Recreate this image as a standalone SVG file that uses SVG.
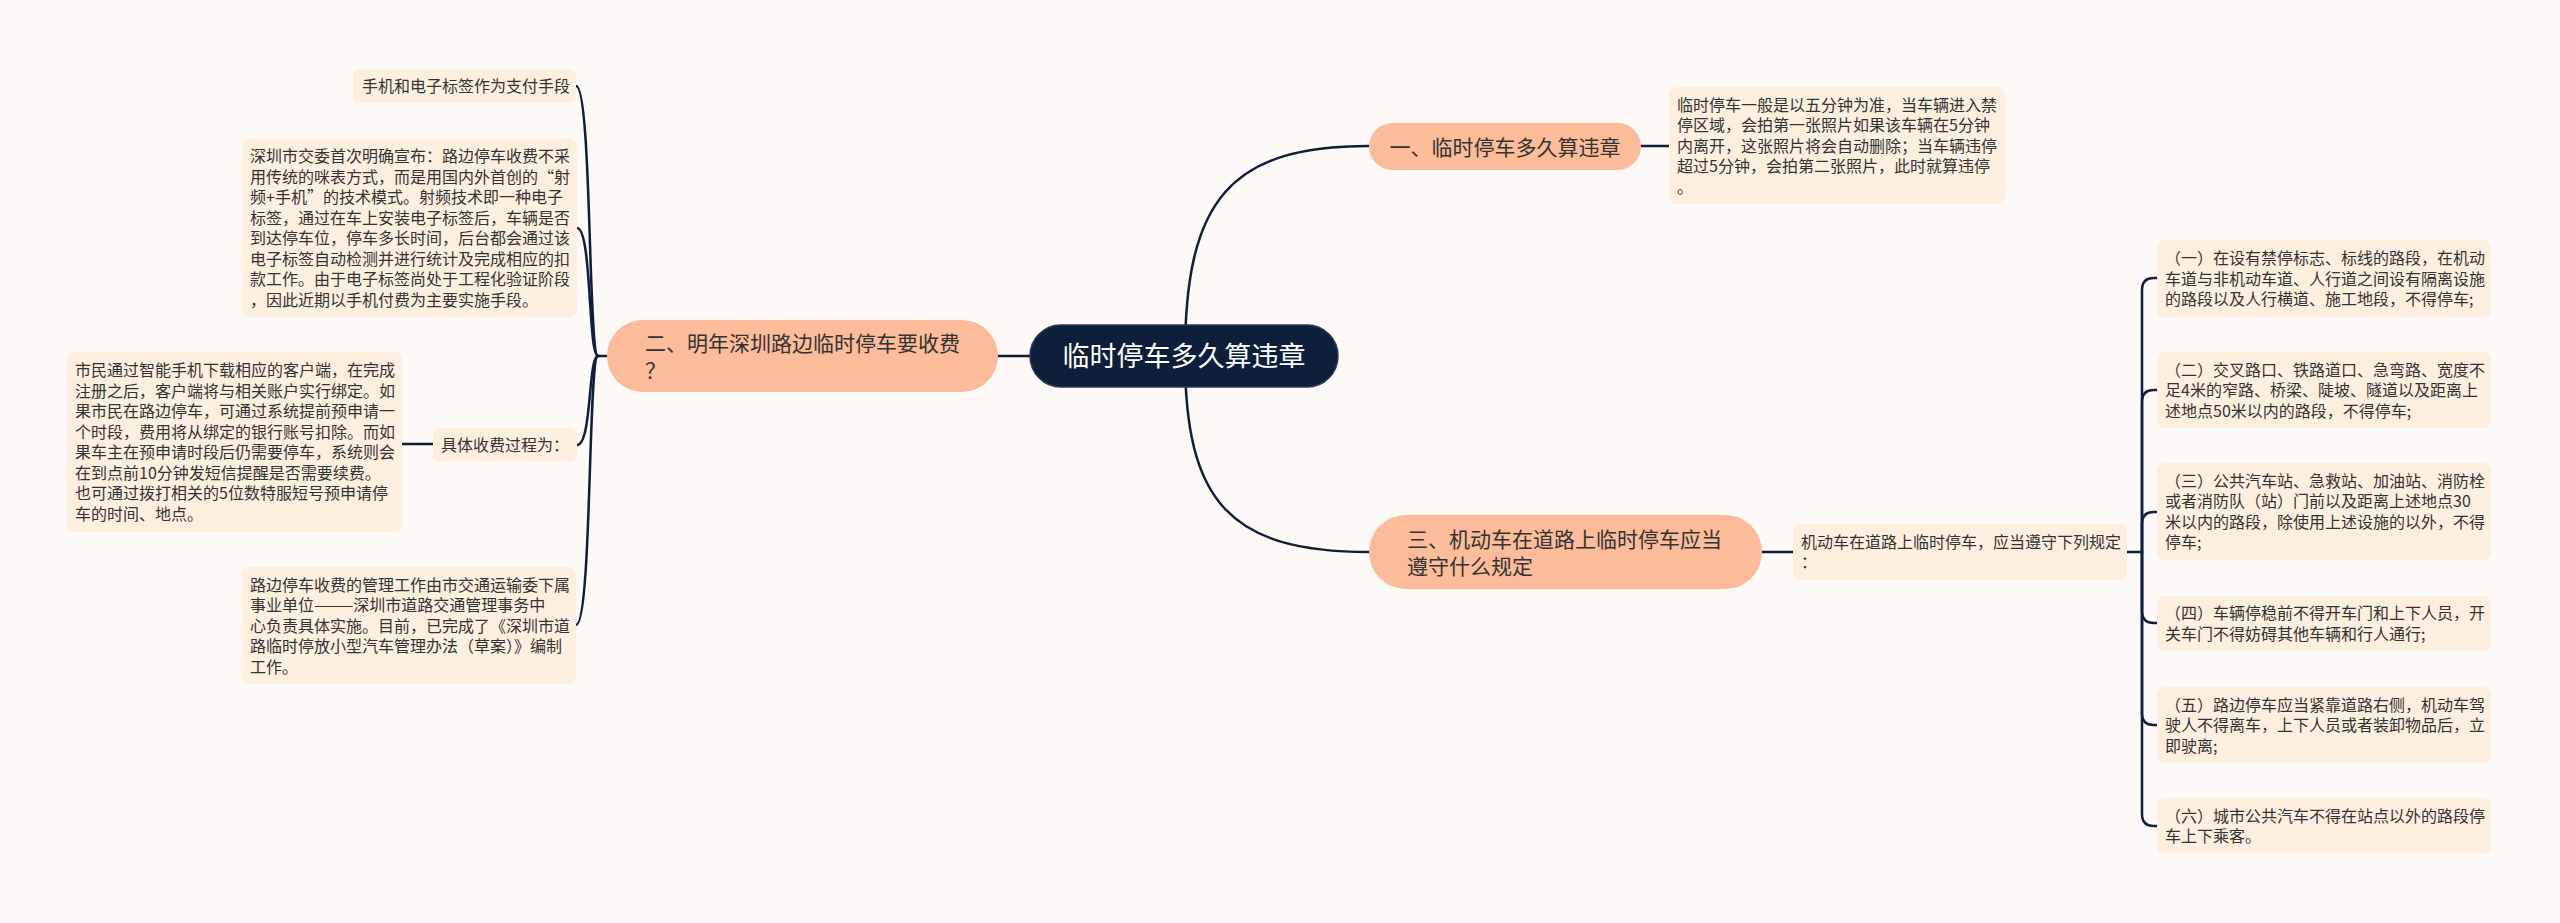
<svg xmlns="http://www.w3.org/2000/svg" width="2560" height="923" viewBox="0 0 2560 923">
<style>
.bg{fill:#fdf9f7}
.leaf{fill:#fdefe0}
.br{fill:#fcbb99}
.root{fill:#0f1f3b;stroke:#2b3b57;stroke-width:1.5}
.t{font-family:"Noto Sans CJK SC","Noto Sans",sans-serif;font-size:16px;fill:#333}
.tb{font-family:"Noto Sans CJK SC","Noto Sans",sans-serif;font-size:21px;fill:#333}
.tr{font-family:"Noto Sans CJK SC","Noto Sans",sans-serif;font-size:27px;fill:#fff}
.c{fill:none;stroke:#0f1f3b;stroke-width:2.5;stroke-linecap:round}
</style>
<rect class="bg" x="0" y="0" width="2560" height="923"/>
<g id="connectors">
<path class="c" d="M1185 356 C1185 200 1230 146 1369 146"/>
<path class="c" d="M1185 356 C1185 502 1230 552 1369 552"/>
<path class="c" d="M998 356 H1030"/>
<path class="c" d="M1641 146 H1669"/>
<path class="c" d="M1762 552 H1793"/>
<path class="c" d="M2127 552 H2142"/>
<path class="c" d="M2142 552 V290 Q2142 278 2154 278 H2157"/>
<path class="c" d="M2142 552 V402 Q2142 390 2154 390 H2157"/>
<path class="c" d="M2142 552 V524 Q2142 512 2154 512 H2157"/>
<path class="c" d="M2142 552 V611 Q2142 623 2154 623 H2157"/>
<path class="c" d="M2142 552 V713 Q2142 725 2154 725 H2157"/>
<path class="c" d="M2142 552 V814 Q2142 826 2154 826 H2157"/>
<path class="c" d="M607 356 H598"/>
<path class="c" d="M598 356 C588 356 592 86 576 86"/>
<path class="c" d="M598 356 C588 356 592 228 577 228"/>
<path class="c" d="M598 356 C588 356 592 445 577 445"/>
<path class="c" d="M598 356 C588 356 592 625 576 625"/>
<path class="c" d="M402 444 H433"/>
</g>
<g id="root">
<rect class="root" x="1030" y="325" width="308" height="62" rx="31"/>
<text class="tr" x="1184" y="366" text-anchor="middle">临时停车多久算违章</text>
</g>
<g id="b1">
<rect class="br" x="1369" y="123" width="272" height="47" rx="23.5"/>
<text class="tb" x="1505" y="154.5" text-anchor="middle">一、临时停车多久算违章</text>
</g>
<g id="b1-leaf">
<rect class="leaf" x="1669" y="87" width="336" height="117" rx="7"/>
<text class="t" x="1677" y="110.5"><tspan x="1677">临时停车一般是以五分钟为准，当车辆进入禁</tspan><tspan x="1677" dy="20.5">停区域，会拍第一张照片如果该车辆在5分钟</tspan><tspan x="1677" dy="20.5">内离开，这张照片将会自动删除；当车辆违停</tspan><tspan x="1677" dy="20.5">超过5分钟，会拍第二张照片，此时就算违停</tspan><tspan x="1677" dy="20.5">。</tspan></text>
</g>
<g id="b2">
<rect class="br" x="607" y="320" width="391" height="72" rx="36"/>
<text class="tb" x="645" y="350.5"><tspan x="645">二、明年深圳路边临时停车要收费</tspan><tspan x="645" dy="27">？</tspan></text>
</g>
<g id="b2-pay">
<rect class="leaf" x="353" y="69" width="223" height="34" rx="7"/>
<text class="t" x="362" y="92">手机和电子标签作为支付手段</text>
</g>
<g id="b2-rf">
<rect class="leaf" x="242" y="139" width="335" height="178" rx="7"/>
<text class="t" x="250" y="162.25"><tspan x="250">深圳市交委首次明确宣布：路边停车收费不采</tspan><tspan x="250" dy="20.5">用传统的咪表方式，而是用国内外首创的“射</tspan><tspan x="250" dy="20.5">频+手机”的技术模式。射频技术即一种电子</tspan><tspan x="250" dy="20.5">标签，通过在车上安装电子标签后，车辆是否</tspan><tspan x="250" dy="20.5">到达停车位，停车多长时间，后台都会通过该</tspan><tspan x="250" dy="20.5">电子标签自动检测并进行统计及完成相应的扣</tspan><tspan x="250" dy="20.5">款工作。由于电子标签尚处于工程化验证阶段</tspan><tspan x="250" dy="20.5">，因此近期以手机付费为主要实施手段。</tspan></text>
</g>
<g id="b2-process">
<rect class="leaf" x="433" y="428" width="144" height="34" rx="7"/>
<text class="t" x="441" y="451">具体收费过程为：</text>
</g>
<g id="b2-process-detail">
<rect class="leaf" x="67" y="352" width="335" height="180" rx="7"/>
<text class="t" x="75" y="376.25"><tspan x="75">市民通过智能手机下载相应的客户端，在完成</tspan><tspan x="75" dy="20.5">注册之后，客户端将与相关账户实行绑定。如</tspan><tspan x="75" dy="20.5">果市民在路边停车，可通过系统提前预申请一</tspan><tspan x="75" dy="20.5">个时段，费用将从绑定的银行账号扣除。而如</tspan><tspan x="75" dy="20.5">果车主在预申请时段后仍需要停车，系统则会</tspan><tspan x="75" dy="20.5">在到点前10分钟发短信提醒是否需要续费。</tspan><tspan x="75" dy="20.5">也可通过拨打相关的5位数特服短号预申请停</tspan><tspan x="75" dy="20.5">车的时间、地点。</tspan></text>
</g>
<g id="b2-manage">
<rect class="leaf" x="242" y="567" width="334" height="117" rx="7"/>
<text class="t" x="250" y="590.5"><tspan x="250">路边停车收费的管理工作由市交通运输委下属</tspan><tspan x="250" dy="20.5">事业单位———深圳市道路交通管理事务中</tspan><tspan x="250" dy="20.5">心负责具体实施。目前，已完成了《深圳市道</tspan><tspan x="250" dy="20.5">路临时停放小型汽车管理办法（草案）》编制</tspan><tspan x="250" dy="20.5">工作。</tspan></text>
</g>
<g id="b3">
<rect class="br" x="1369" y="515" width="393" height="74" rx="37"/>
<text class="tb" x="1407" y="546.5"><tspan x="1407">三、机动车在道路上临时停车应当</tspan><tspan x="1407" dy="27">遵守什么规定</tspan></text>
</g>
<g id="b3-leaf">
<rect class="leaf" x="1793" y="524" width="334" height="56" rx="7"/>
<text class="t" x="1801" y="547.75"><tspan x="1801">机动车在道路上临时停车，应当遵守下列规定</tspan><tspan x="1801" dy="20.5">：</tspan></text>
</g>
<g id="r1">
<rect class="leaf" x="2157" y="240" width="334" height="77" rx="7"/>
<text class="t" x="2165" y="264"><tspan x="2165">（一）在设有禁停标志、标线的路段，在机动</tspan><tspan x="2165" dy="20.5">车道与非机动车道、人行道之间设有隔离设施</tspan><tspan x="2165" dy="20.5">的路段以及人行横道、施工地段，不得停车;</tspan></text>
</g>
<g id="r2">
<rect class="leaf" x="2157" y="352" width="334" height="76" rx="7"/>
<text class="t" x="2165" y="375.5"><tspan x="2165">（二）交叉路口、铁路道口、急弯路、宽度不</tspan><tspan x="2165" dy="20.5">足4米的窄路、桥梁、陡坡、隧道以及距离上</tspan><tspan x="2165" dy="20.5">述地点50米以内的路段，不得停车;</tspan></text>
</g>
<g id="r3">
<rect class="leaf" x="2157" y="463" width="334" height="97" rx="7"/>
<text class="t" x="2165" y="486.75"><tspan x="2165">（三）公共汽车站、急救站、加油站、消防栓</tspan><tspan x="2165" dy="20.5">或者消防队（站）门前以及距离上述地点30</tspan><tspan x="2165" dy="20.5">米以内的路段，除使用上述设施的以外，不得</tspan><tspan x="2165" dy="20.5">停车;</tspan></text>
</g>
<g id="r4">
<rect class="leaf" x="2157" y="596" width="334" height="55" rx="7"/>
<text class="t" x="2165" y="619.25"><tspan x="2165">（四）车辆停稳前不得开车门和上下人员，开</tspan><tspan x="2165" dy="20.5">关车门不得妨碍其他车辆和行人通行;</tspan></text>
</g>
<g id="r5">
<rect class="leaf" x="2157" y="687" width="334" height="76" rx="7"/>
<text class="t" x="2165" y="710.5"><tspan x="2165">（五）路边停车应当紧靠道路右侧，机动车驾</tspan><tspan x="2165" dy="20.5">驶人不得离车，上下人员或者装卸物品后，立</tspan><tspan x="2165" dy="20.5">即驶离;</tspan></text>
</g>
<g id="r6">
<rect class="leaf" x="2157" y="798" width="334" height="56" rx="7"/>
<text class="t" x="2165" y="821.75"><tspan x="2165">（六）城市公共汽车不得在站点以外的路段停</tspan><tspan x="2165" dy="20.5">车上下乘客。</tspan></text>
</g>
</svg>
